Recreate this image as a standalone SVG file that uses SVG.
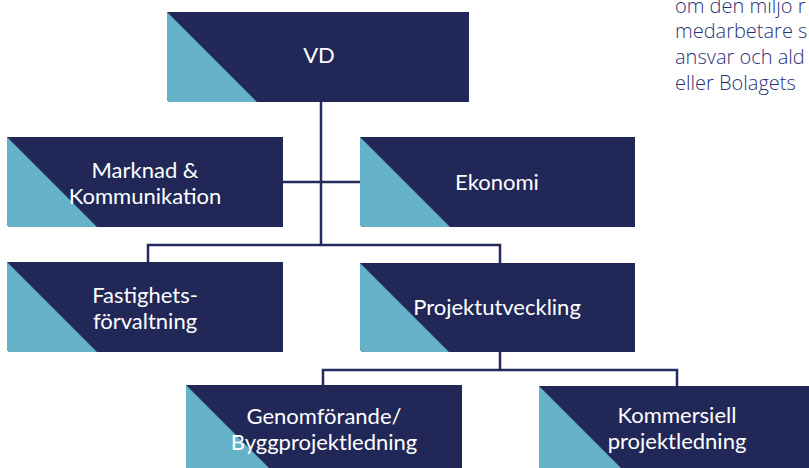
<svg xmlns="http://www.w3.org/2000/svg" width="809" height="468" viewBox="0 0 809 468">
<style>
.bg{fill:#212858}
.tri{fill:#65b1c7}
.lbl{fill:#ffffff;font-family:Lato,"Open Sans","Liberation Sans",sans-serif;font-size:22px;text-anchor:middle}
.con{fill:none;stroke:#232a5c;stroke-width:2.5}
.side{fill:#2b3277;font-family:"Open Sans",Lato,"Liberation Sans",sans-serif;font-weight:300;font-size:20px}
</style>
<rect width="809" height="468" fill="#ffffff"/>
<text class="side"><tspan x="675" y="13">om den miljö r</tspan><tspan x="675" y="38">medarbetare s</tspan><tspan x="675" y="64">ansvar och ald</tspan><tspan x="675" y="90">eller Bolagets</tspan></text>
<g id="connectors">
<path class="con" d="M321 102V245"/>
<path class="con" d="M283 182H360"/>
<path class="con" d="M148 262V245H500V263"/>
<path class="con" d="M500 352V370"/>
<path class="con" d="M323 385V370H677V386"/>
</g>
<g id="vd">
<path class="bg" d="M167 12H469V102H171Q167 102 167 98Z"/>
<path class="tri" d="M167 12L257 102H171Q167 102 167 98Z"/>
<text class="lbl" x="319" y="63">VD</text>
</g>
<g id="marknad">
<path class="bg" d="M7 137H283V227H11Q7 227 7 223Z"/>
<path class="tri" d="M7 137L97 227H11Q7 227 7 223Z"/>
<text class="lbl" x="145" y="178">Marknad &amp;</text>
<text class="lbl" x="145" y="204">Kommunikation</text>
</g>
<g id="ekonomi">
<path class="bg" d="M360 137H635V227H364Q360 227 360 223Z"/>
<path class="tri" d="M360 137L450 227H364Q360 227 360 223Z"/>
<text class="lbl" x="497" y="190">Ekonomi</text>
</g>
<g id="fastighet">
<path class="bg" d="M7 262H283V352H11Q7 352 7 348Z"/>
<path class="tri" d="M7 262L97 352H11Q7 352 7 348Z"/>
<text class="lbl" x="145" y="303">Fastighets-</text>
<text class="lbl" x="145" y="329">förvaltning</text>
</g>
<g id="projekt">
<path class="bg" d="M360 263H635V352H364Q360 352 360 348Z"/>
<path class="tri" d="M360 263L449 352H364Q360 352 360 348Z"/>
<text class="lbl" x="497" y="315">Projektutveckling</text>
</g>
<g id="genomforande">
<path class="bg" d="M186 385H462V475H186Z"/>
<path class="tri" d="M186 385L276 475H186Z"/>
<text class="lbl" x="324" y="424">Genomförande/</text>
<text class="lbl" x="324" y="450">Byggprojektledning</text>
</g>
<g id="kommersiell">
<path class="bg" d="M539 386H815V476H539Z"/>
<path class="tri" d="M539 386L629 476H539Z"/>
<text class="lbl" x="677" y="423">Kommersiell</text>
<text class="lbl" x="677" y="449">projektledning</text>
</g>
</svg>
